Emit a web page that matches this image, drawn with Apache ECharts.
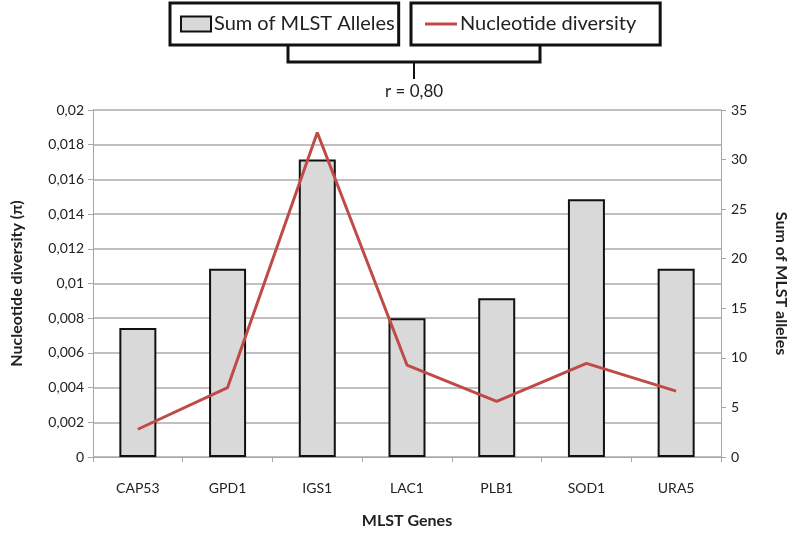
<!DOCTYPE html>
<html>
<head>
<meta charset="utf-8">
<script src="https://cdn.jsdelivr.net/npm/echarts@6/dist/echarts.min.js"></script>
<style>
  html, body { margin: 0; padding: 0; background: #fff; }
  #chart { width: 797px; height: 534px; }
</style>
</head>
<body>
<div id="chart"></div>
<script>
// data
const genes = ['CAP53', 'GPD1', 'IGS1', 'LAC1', 'PLB1', 'SOD1', 'URA5']
const alleleSums = [13, 19, 30, 14, 16, 26, 19]
const diversity = [0.0016, 0.0040, 0.0187, 0.0053, 0.0032, 0.0054, 0.0038]
const correlationText = 'r = 0,80'

const font = 'Lato, "Open Sans", sans-serif'
const commaNum = v => String(+v.toFixed(3)).replace('.', ',')

const myChart = echarts.init(document.getElementById('chart'))

const option = {
  backgroundColor: '#fff',
  animation: false,
  textStyle: { fontFamily: font },
  legend: [
    {
      data: ['Sum of MLST Alleles'],
      left: 170,
      top: 3,
      padding: [11, 4, 11, 10],
      borderColor: '#111',
      borderWidth: 3,
      icon: 'rect',
      itemWidth: 30,
      itemHeight: 15,
      itemGap: 4,
      textStyle: { fontFamily: font, fontSize: 20, color: '#222', padding: [0, 0, 0, -2] },
      selectedMode: false
    },
    {
      data: ['Nucleotide diversity'],
      left: 411,
      top: 3,
      padding: [11, 24, 11, 14],
      borderColor: '#111',
      borderWidth: 3,
      icon: 'rect',
      itemWidth: 32,
      itemHeight: 3,
      textStyle: { fontFamily: font, fontSize: 20, color: '#222', padding: [0, 0, 0, -2] },
      selectedMode: false
    }
  ],
  grid: {
    left: 93,
    right: 71,
    top: 110,
    bottom: 76,
    containLabel: false
  },
  xAxis: {
    type: 'category',
    data: genes,
    name: 'MLST Genes',
    nameLocation: 'middle',
    nameGap: 56,
    nameTextStyle: { fontFamily: font, fontSize: 16, fontWeight: 'bold', color: '#222' },
    axisLine: { lineStyle: { color: '#a6a6a6', width: 1 } },
    axisTick: { show: true, length: 5, lineStyle: { color: '#a6a6a6' } },
    axisLabel: { fontFamily: font, fontSize: 14, color: '#222', margin: 24 }
  },
  yAxis: [
    {
      type: 'value',
      min: 0,
      max: 0.02,
      interval: 0.002,
      name: 'Nucleotide diversity (π)',
      nameLocation: 'middle',
      nameGap: 68,
      nameTextStyle: { fontFamily: font, fontSize: 16, fontWeight: 'bold', color: '#222' },
      axisLine: { show: true, lineStyle: { color: '#a6a6a6' } },
      axisTick: { show: true, length: 5, lineStyle: { color: '#a6a6a6' } },
      axisLabel: { fontFamily: font, fontSize: 14, color: '#222', margin: 9, formatter: commaNum },
      splitLine: { show: true, lineStyle: { color: '#ababab', width: 1.5 } }
    },
    {
      type: 'value',
      min: 0,
      max: 35,
      interval: 5,
      position: 'right',
      name: 'Sum of MLST alleles',
      nameLocation: 'middle',
      nameRotate: -90,
      nameGap: 52,
      nameTextStyle: { fontFamily: font, fontSize: 16, fontWeight: 'bold', color: '#222' },
      axisLine: { show: true, lineStyle: { color: '#a6a6a6' } },
      axisTick: { show: true, length: 5, lineStyle: { color: '#a6a6a6' } },
      axisLabel: { fontFamily: font, fontSize: 14, color: '#222', margin: 10 },
      splitLine: { show: false }
    }
  ],
  series: [
    {
      name: 'Sum of MLST Alleles',
      type: 'bar',
      yAxisIndex: 1,
      barWidth: 37,
      itemStyle: { color: '#d9d9d9', borderColor: '#111', borderWidth: 2 },
      data: alleleSums
    },
    {
      name: 'Nucleotide diversity',
      type: 'line',
      yAxisIndex: 0,
      symbol: 'none',
      z: 3,
      lineStyle: { color: '#be4b48', width: 3 },
      itemStyle: { color: '#be4b48' },
      data: diversity
    }
  ],
  graphic: [
    {
      type: 'polyline',
      shape: { points: [[288, 46], [288, 62], [540, 62], [540, 46]] },
      style: { stroke: '#111', lineWidth: 3, fill: null }
    },
    {
      type: 'line',
      shape: { x1: 414, y1: 62, x2: 414, y2: 79 },
      style: { stroke: '#111', lineWidth: 2 }
    },
    {
      type: 'text',
      x: 414,
      y: 92,
      style: {
        text: correlationText,
        fontFamily: font,
        fontSize: 17,
        fill: '#222',
        align: 'center',
        verticalAlign: 'middle'
      }
    }
  ]
}

myChart.setOption(option)
</script>
</body>
</html>
